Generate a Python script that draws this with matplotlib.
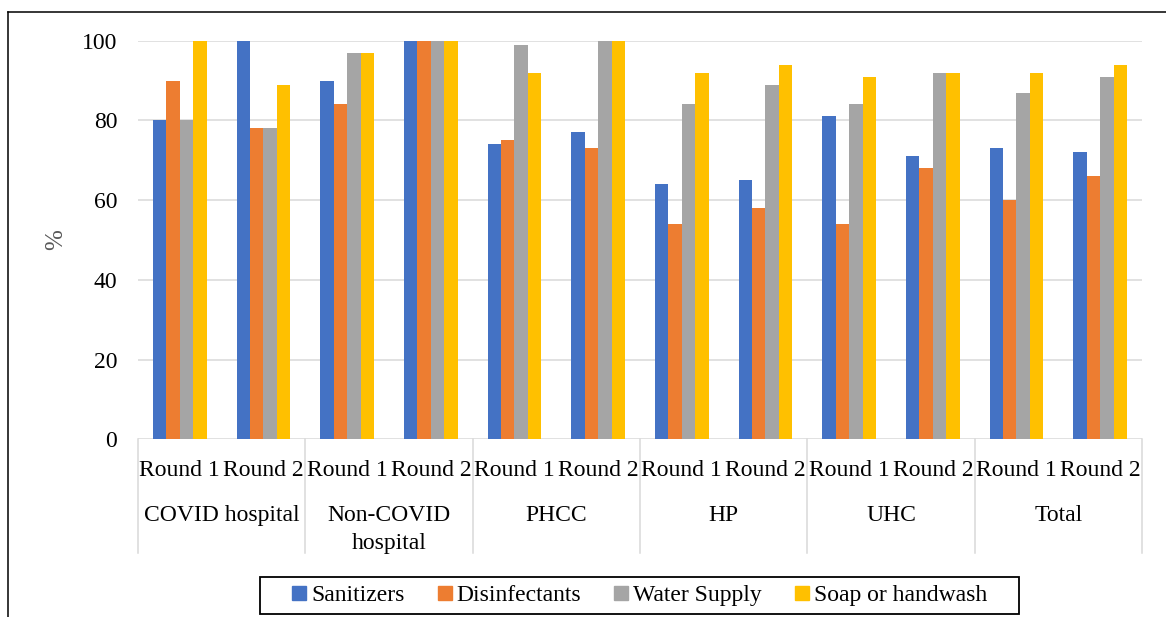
import matplotlib
matplotlib.use('Agg')
import matplotlib.pyplot as plt
from matplotlib.lines import Line2D
from matplotlib.patches import Rectangle
import numpy as np

# facility types and survey rounds
groups = ['COVID hospital', 'Non-COVID\nhospital', 'PHCC', 'HP', 'UHC', 'Total']
rounds = ['Round 1', 'Round 2']

# availability (%) per facility/round, in order of groups x rounds
sanitizers = [80, 100, 90, 100, 74, 77, 64, 65, 81, 71, 73, 72]
disinfectants = [90, 78, 84, 100, 75, 73, 54, 58, 54, 68, 60, 66]
water_supply = [80, 78, 97, 100, 99, 100, 84, 89, 84, 92, 87, 91]
soap_handwash = [100, 89, 97, 100, 92, 100, 92, 94, 91, 92, 92, 94]

series_names = ['Sanitizers', 'Disinfectants', 'Water Supply', 'Soap or handwash']
colors = ['#4472C4', '#ED7D31', '#A5A5A5', '#FFC000']

plt.rcParams['font.family'] = ['Liberation Serif', 'DejaVu Serif']
FS = 17

fig = plt.figure(figsize=(11.66, 6.17), dpi=100)
ax = fig.add_axes([0.11835, 0.2880, 0.86106, 0.6460])

series = [sanitizers, disinfectants, water_supply, soap_handwash]
n_slots = len(groups) * len(rounds)
x = np.arange(n_slots)
bw = 0.1613
for i, (vals, c) in enumerate(zip(series, colors)):
    ax.bar(x + (i - 1.5) * bw, vals, width=bw, color=c, zorder=3)

ax.set_xlim(-0.5, n_slots - 0.5)
ax.set_ylim(0, 100)
ax.set_yticks(range(0, 101, 20))
ax.yaxis.grid(True, color='#d9d9d9', linewidth=1.1, zorder=0)
ax.set_axisbelow(True)
for s in ax.spines.values():
    s.set_visible(False)
ax.tick_params(axis='y', length=0, pad=15, labelsize=FS)
ax.tick_params(axis='x', length=0, labelbottom=False)

ax.set_ylabel('%', fontsize=18, color='#595959')
ax.yaxis.set_label_coords(-0.0707, 0.50, transform=ax.transAxes)

# two-level category axis
tr = ax.get_xaxis_transform()
for k in range(n_slots):
    ax.text(x[k], -0.0921, rounds[k % 2], transform=tr, ha='center',
            va='baseline', fontsize=FS)
for g, name in enumerate(groups):
    xc = 2 * g + 0.5
    for j, line in enumerate(name.split('\n')):
        ax.text(xc, -0.2059 - j * 0.0695, line, transform=tr, ha='center',
                va='baseline', fontsize=FS)
for g in range(len(groups) + 1):
    ax.plot([2 * g - 0.5] * 2, [0, -0.2845], transform=tr, color='#d9d9d9',
            linewidth=1.1, clip_on=False)

# legend
handles = [Line2D([], [], marker='s', linestyle='none', markersize=9.4,
                  markerfacecolor=c, markeredgecolor=c) for c in colors]
fig.legend(handles, series_names, loc='center', bbox_to_anchor=(0.5485, 0.0348),
           ncol=4, frameon=False, fontsize=FS, handlelength=0.6,
           handletextpad=0.2, columnspacing=1.4, borderpad=0)
W, H = 1166, 617
fig.add_artist(Rectangle((260 / W, 1 - 614 / H), 759 / W, 37 / H,
                         transform=fig.transFigure, fill=False,
                         edgecolor='black', linewidth=1.3))

# outer frame
fig.add_artist(Line2D([8 / W, 1], [1 - 12 / H] * 2, transform=fig.transFigure,
                      color='black', linewidth=1.1))
fig.add_artist(Line2D([8 / W] * 2, [0, 1 - 12 / H], transform=fig.transFigure,
                      color='black', linewidth=1.1))

fig.savefig('out.png', dpi=100)
